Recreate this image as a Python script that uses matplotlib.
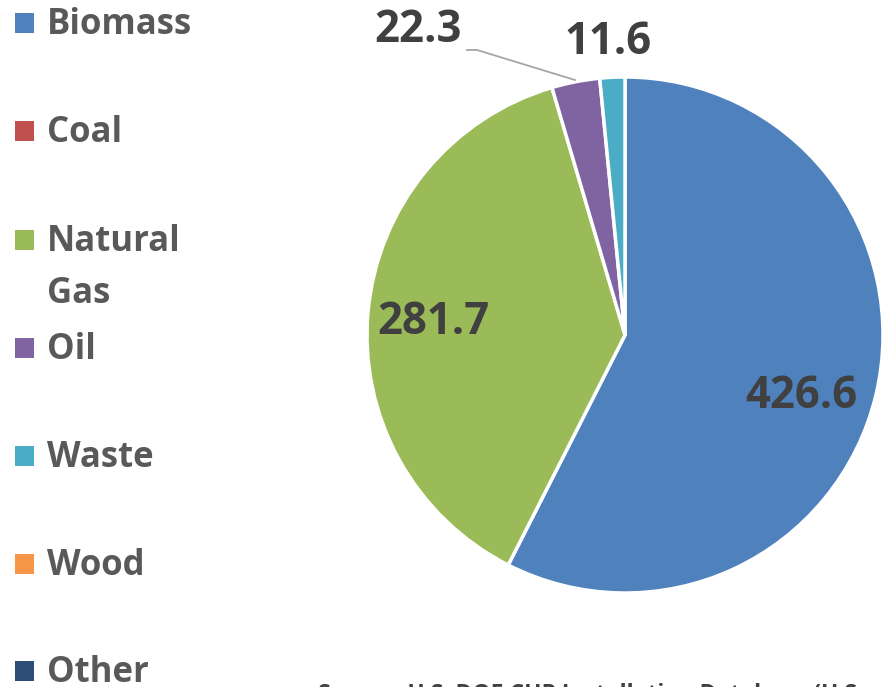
import matplotlib
matplotlib.use("Agg")
import matplotlib.pyplot as plt
from matplotlib.patches import Rectangle

categories = ["Biomass", "Coal", "Natural Gas", "Oil", "Waste", "Wood", "Other"]
legend_labels = ["Biomass", "Coal", "Natural\nGas", "Oil", "Waste", "Wood", "Other"]
values = [426.6, 0.0, 281.7, 22.3, 11.6, 0.0, 0.0]
colors = ["#4F81BD", "#C0504D", "#9BBB59", "#8064A2", "#4BACC6", "#F79646", "#2C4D75"]
source_text = "Source: U.S. DOE CHP Installation Database (U.S."

plt.rcParams['font.family'] = ['Open Sans', 'DejaVu Sans']

W, H = 884, 687
fig = plt.figure(figsize=(W / 100, H / 100), dpi=100)
fig.patch.set_facecolor("white")

cx, cy, R = 625, 335, 258
ax = fig.add_axes([(cx - R) / W, (H - cy - R) / H, 2 * R / W, 2 * R / H])
nz = [i for i, v in enumerate(values) if v > 0]
wedges, _ = ax.pie([values[i] for i in nz], colors=[colors[i] for i in nz],
                   startangle=90, counterclock=False, radius=1,
                   wedgeprops=dict(edgecolor="white", linewidth=2.5))
ax.set_xlim(-1, 1)
ax.set_ylim(-1, 1)
ax.set_aspect("equal")
ax.axis("off")

def px(x, y):
    return (x - cx) / R, (cy - y) / R

lab_pos = {"Biomass": (801, 397), "Natural Gas": (433, 322), "Oil": (418, 30), "Waste": (608, 42)}
for i in nz:
    x, y = px(*lab_pos[categories[i]])
    ax.text(x, y, f"{values[i]:.1f}", ha="center", va="center", fontsize=31.5,
            fontweight="bold", color="#404040", clip_on=False)

# leader line for Oil label
pts = [px(467, 50), px(477, 50), px(575, 80)]
ax.plot([p[0] for p in pts], [p[1] for p in pts], color="#A6A6A6", lw=1.3, clip_on=False)

# legend
ys = [22, 130, 239, 347, 455, 563, 670]
for lab, col, y in zip(legend_labels, colors, ys):
    fig.patches.append(Rectangle((15 / W, (H - y - 11) / H), 19 / W, 20 / H,
                                 transform=fig.transFigure, facecolor=col, edgecolor="none"))
    fig.text(47 / W, (H - y - 3) / H, lab.split("\n")[0], ha="left", va="center",
             fontsize=25, fontweight="bold", color="#595959")
    if "\n" in lab:
        fig.text(47 / W, (H - y - 55) / H, lab.split("\n")[1], ha="left", va="center",
                 fontsize=25, fontweight="bold", color="#595959")

fig.text(318 / W, (H - 683) / H, source_text, ha="left", va="top", fontsize=16.5,
         fontweight="bold", color="#404040")

fig.savefig("out.png", dpi=100)
